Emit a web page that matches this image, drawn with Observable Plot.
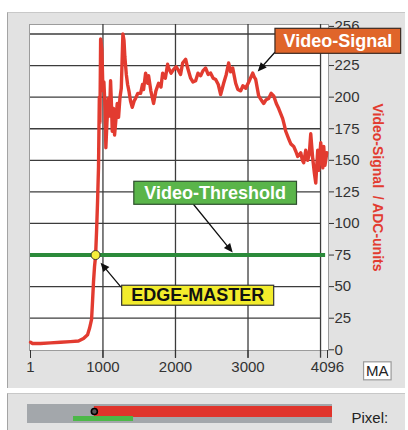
<!DOCTYPE html>
<html><head><meta charset="utf-8">
<script src="https://cdn.jsdelivr.net/npm/d3@7"></script>
<script src="https://cdn.jsdelivr.net/npm/@observablehq/plot@0.6"></script>
<style>
html,body{margin:0;padding:0;background:#fff;}
#wrap{position:relative;width:408px;height:430px;overflow:hidden;font-family:"Liberation Sans",Arial,sans-serif;}
.panel{position:absolute;background:#e2e2e2;border-left:1px solid #a4a4a4;border-top:1px solid #c8c8c8;box-sizing:border-box;}
#p1{left:7px;top:12px;width:398px;height:376px;}
#p2{left:7px;top:393px;width:398px;height:37px;}
#chart{position:absolute;left:0;top:0;}
#slider{position:absolute;left:0;top:393px;}
</style></head><body>
<div id="wrap"><div class="panel" id="p1"></div><div class="panel" id="p2"></div><div id="chart"></div><div id="slider"></div></div>
<script>
// ---- data ----
const pixel = [1,29,139,277,415,553,663,732,788,815,843,857,870,884,898,912,926,939,950,958,968,985,1000,1013,1030,1040,1055,1073,1090,1105,1120,1128,1146,1160,1174,1197,1215,1235,1253,1275,1290,1302,1322,1340,1358,1380,1404,1430,1450,1480,1519,1545,1560,1588,1616,1629,1660,1698,1730,1767,1800,1823,1860,1892,1905,1940,1974,2010,2043,2070,2099,2140,2168,2209,2240,2278,2310,2347,2380,2416,2450,2485,2520,2554,2590,2623,2664,2700,2733,2760,2789,2830,2860,2899,2930,2968,3010,3065,3085,3106,3147,3180,3216,3250,3285,3320,3354,3390,3423,3478,3500,3520,3561,3590,3630,3660,3685,3727,3750,3768,3796,3823,3845,3865,3880,3893,3915,3934,3961,3975,4003,4031,4044,4060,4072,4086];
const signal = [6,5,5,5.5,6,6.5,7,9,12,17,24,39,54,66,74,94,118,145,200,180,246,238,205,212,190,160,180,199,185,213,190,173,191,170,179,195,184,200,207,250,245,232,218,210,205,197,192,197,199,203,203,210,206,219,211,217,205,195,205,211,208,219,215,226,223,219,222,224,221,218,227,230,223,215,212,213,219,217,221,223,218,219,215,214,210,202,211,218,227,220,223,211,206,205,209,207,212,219,216,214,201,198,195,198,199,203,201,195,191,183,178,173,167,163,161,157,153,156,150,148,158,150,155,171,160,151,140,132,158,142,164,144,161,146,150,156];
const threshold = 75;
const edgePixel = 898;
const xTicks = [1,1000,2000,3000,4096];
const yTicks = [0,25,50,75,100,125,150,175,200,225,256];
const gridValues = [25,50,75,100,125,150,175,200,225,250];
const gridPixels = [1000,2000,3000,4000];
const yLabel = "Video-Signal\u00a0\u00a0/ ADC-units";
const annText = ["Video-Signal","Video-Threshold","EDGE-MASTER"];
const annPixel = [4238,2547,2306];
const annValue = [244.4,124.1,43];
const arrowFromPixel = [3368,2250,1243];
const arrowFromValue = [235.3,115,50];
const arrowToPixel = [3134,2789,967];
const arrowToValue = [220.3,77,69];
const unitText = "MA";
const unitPixel = 4783, unitValue = -17.2;
const sliderWindow = [618,1424];
const sliderLabel = "Pixel:";

// ---- tables ----
const series = pixel.map((p,i)=>({p, v: signal[i]}));
const ann = annText.map((t,i)=>({t, p: annPixel[i], v: annValue[i]}));
const arrows = arrowFromPixel.map((p,i)=>({x1:p, y1:arrowFromValue[i], x2:arrowToPixel[i], y2:arrowToValue[i]}));

const RED = "#e23b30";
const font = "Liberation Sans, Arial, sans-serif";

const chart = Plot.plot({
  width:408, height:430,
  marginLeft:29, marginRight:80, marginTop:24, marginBottom:80,
  style:{background:"transparent", fontFamily:font, overflow:"visible"},
  x:{domain:[1,4096], range:[30,327], label:null},
  y:{domain:[0,256], range:[349.3,25.9], label:null},
  marks:[
    Plot.frame({fill:"white", stroke:"#9c9c9c"}),
    Plot.ruleY(gridValues, {x1:1, x2:4000, stroke:"#3c3c3c", strokeWidth:1.3}),
    Plot.ruleX(gridPixels, {y1:-6.6, y2:257.5, stroke:"#3c3c3c", strokeWidth:1.3}),
    Plot.axisX(xTicks, {tickSize:8, tickPadding:3, tickFormat:d=>String(d), color:"#333", fontSize:15}),
    Plot.axisY(yTicks, {anchor:"right", tickSize:5, tickPadding:1, color:"#333", fontSize:15}),
    Plot.line(series, {x:"p", y:"v", stroke:RED, strokeWidth:3.4, strokeLinejoin:"round"}),
    Plot.ruleY([threshold], {x1:1, x2:4070, stroke:"#2b8a3a", strokeWidth:4}),
    Plot.dot([{p:edgePixel, v:threshold}], {x:"p", y:"v", r:4.5, fill:"#f6ef3a", stroke:"#333", strokeWidth:1}),
    Plot.text([yLabel], {frameAnchor:"right", dx:49, rotate:90, textAnchor:"middle", fill:RED, fontWeight:"bold", fontSize:14}),
    Plot.arrow(arrows, {x1:"x1", y1:"y1", x2:"x2", y2:"y2", stroke:"#111", strokeWidth:1.3, headLength:0}),
    Plot.text(ann.slice(0,1), {x:"p", y:"v", text:"t", fill:"white", fontWeight:"bold", fontSize:18}),
    Plot.text(ann.slice(1,2), {x:"p", y:"v", text:"t", fill:"white", fontWeight:"bold", fontSize:18}),
    Plot.text(ann.slice(2,3), {x:"p", y:"v", text:"t", fill:"#111", fontWeight:"bold", fontSize:18}),
    Plot.text([{t:unitText, p:unitPixel, v:unitValue}], {x:"p", y:"v", text:"t", fill:"#222", fontSize:15})
  ]
});
document.getElementById("chart").append(chart);

// boxes behind annotation texts
const NS = "http://www.w3.org/2000/svg";
const boxStyle = {
  "Video-Signal": {fill:"#e0652a", stroke:"#3a2a22", padX:8.5, h:25},
  "Video-Threshold": {fill:"#5ab54a", stroke:"#2d4f2d", padX:10.5, h:23},
  "EDGE-MASTER": {fill:"#f2ec2c", stroke:"#333", padX:9.5, h:20},
  "MA": {fill:"#ffffff", stroke:"#9a9a9a", padX:2.5, h:18}
};
chart.querySelectorAll("text").forEach(t => {
  const st = boxStyle[t.textContent];
  if (!st) return;
  const bb = t.getBBox();
  const cy = bb.y + bb.height/2;
  const r = document.createElementNS(NS, "rect");
  r.setAttribute("x", bb.x - st.padX);
  r.setAttribute("y", cy - st.h/2);
  r.setAttribute("width", bb.width + 2*st.padX);
  r.setAttribute("height", st.h);
  r.setAttribute("fill", st.fill);
  r.setAttribute("stroke", st.stroke);
  r.setAttribute("stroke-width", 1.2);
  const tr = t.getAttribute("transform");
  if (tr) r.setAttribute("transform", tr);
  t.parentNode.insertBefore(r, t);
});
// filled arrow heads
chart.querySelectorAll('g[aria-label="arrow"] path').forEach(p => {
  const n = (p.getAttribute("d").match(/-?\d*\.?\d+(?:e[-+]?\d+)?/gi) || []).map(Number);
  if (n.length < 4) return;
  const [x1,y1,x2,y2] = n;
  const dx = x2-x1, dy = y2-y1, L = Math.hypot(dx,dy), ux = dx/L, uy = dy/L;
  const hl = 9, hw = 4;
  const bx = x2-ux*hl, by = y2-uy*hl;
  p.setAttribute("d", `M${x1},${y1}L${bx},${by}`);
  const h = document.createElementNS(NS, "path");
  h.setAttribute("d", `M${x2},${y2}L${bx-uy*hw},${by+ux*hw}L${bx+uy*hw},${by-ux*hw}Z`);
  h.setAttribute("fill", "#111");
  h.setAttribute("stroke", "none");
  p.parentNode.appendChild(h);
});

// slider strip
const slider = Plot.plot({
  width:408, height:37, margin:0,
  style:{background:"transparent", fontFamily:font, overflow:"visible"},
  x:{domain:[0,4096], range:[27,332], axis:null},
  y:{domain:[0,1], range:[30,11], axis:null},
  marks:[
    Plot.rect([{a:0,b:4096}], {x1:"a", x2:"b", y1:0, y2:1, fill:"#a3a7ab"}),
    Plot.rect([{a:edgePixel,b:4096}], {x1:"a", x2:"b", y1:0.316, y2:0.895, fill:"#e0342c"}),
    Plot.rect([{a:sliderWindow[0],b:sliderWindow[1]}], {x1:"a", x2:"b", y1:0.105, y2:0.368, fill:"#4cb848"}),
    Plot.dot([edgePixel], {x:d=>d, y:0.63, r:3, fill:"#555", stroke:"#000", strokeWidth:1.6}),
    Plot.text([sliderLabel], {x:4351, y:0.29, textAnchor:"start", fill:"#222", fontSize:15})
  ]
});
document.getElementById("slider").append(slider);
</script>
</body></html>
